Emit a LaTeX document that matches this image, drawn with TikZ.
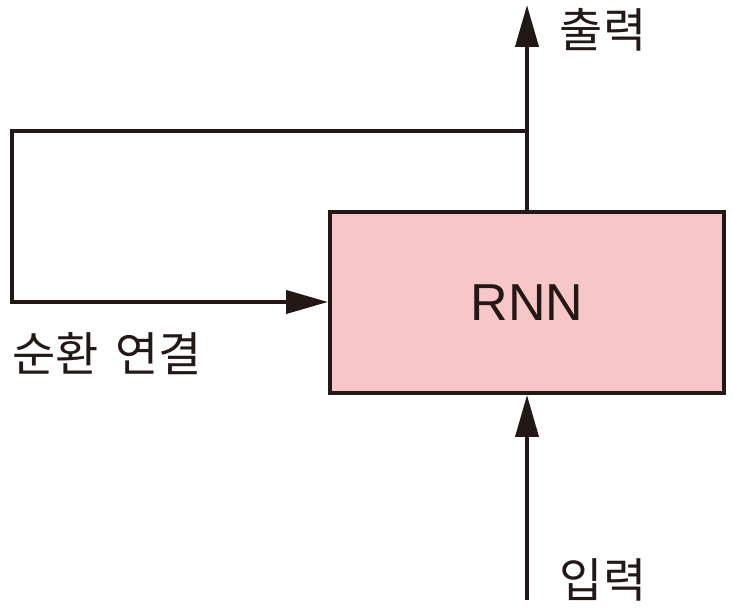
\documentclass[tikz,border=0pt]{standalone}
\usepackage{fontspec}
\setmainfont{Liberation Sans}
\newfontfamily\krfont{Noto Sans CJK KR}
\usetikzlibrary{arrows.meta}
\definecolor{ink}{HTML}{231815}
\definecolor{boxfill}{HTML}{F7C6C6}
\tikzset{
  wire/.style={draw=ink, line width=4pt},
  arr/.style={wire, -{Triangle[length=42pt,width=23pt]}},
  lbl/.style={text=ink, font=\krfont\fontsize{47}{50}\selectfont, inner sep=0pt},
}
\begin{document}
\begin{tikzpicture}[x=1pt,y=1pt]
\useasboundingbox (0,0) rectangle (733,610);
\node[draw=ink, line width=4pt, fill=boxfill, minimum width=394pt, minimum height=181pt, inner sep=0pt, text=ink, font=\fontsize{52}{56}\selectfont] (rnn) at (527,307.5) {RNN};
\coordinate (top) at (527,605);
\coordinate (bot) at (527,10);
\coordinate (j) at (527,479);
\coordinate (tl) at (12,479);
\coordinate (bl) at (12,308);
\draw[arr] (rnn.north) -- (top);
\draw[arr] (bot) -- (rnn.south);
\draw[arr, line join=miter] (j) -- (tl) -- (bl) -- (bl -| rnn.west);
\node[lbl] (out) at (603,580) {출력};
\node[lbl] (in) at (603,30) {입력};
\node[lbl] (rec) at (107,256) {순환\hspace{0.35em}연결};
\end{tikzpicture}
\end{document}
